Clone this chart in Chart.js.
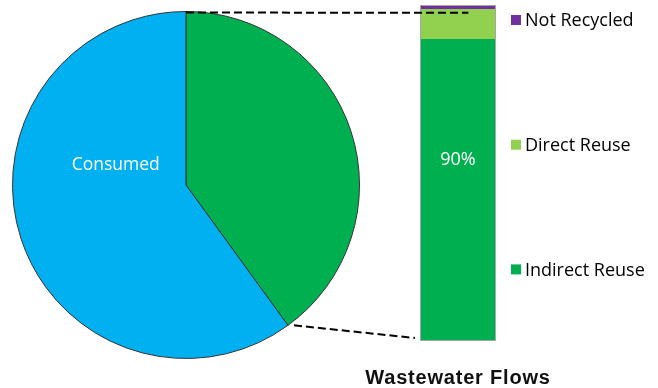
<!DOCTYPE html>
<html>
<head>
<meta charset="utf-8">
<script src="https://cdn.jsdelivr.net/npm/chart.js@4.4.0/dist/chart.umd.min.js"></script>
<style>
  html, body { margin: 0; padding: 0; background: #fff; }
  #wrap { position: relative; width: 658px; height: 388px; }
  #wrap canvas { position: absolute; left: 0; top: 0; }
</style>
</head>
<body>
<div id="wrap">
  <canvas id="pie" width="658" height="388"></canvas>
  <canvas id="bar" width="658" height="388"></canvas>
</div>
<script>
/* ---- Data ---- */
var pieLabels = ['Recycled', 'Consumed'];
var pieValues = [40, 60];
var pieColors = ['#00B050', '#00B0F0'];
var pieShownLabels = ['', 'Consumed'];

var barLabels = ['Indirect Reuse', 'Direct Reuse', 'Not Recycled'];
var barValues = [90, 9, 1];
var barColors = ['#00B050', '#92D050', '#7030A0'];
var barShownLabels = ['90%', '', ''];
var chartTitle = 'Wastewater Flows';

var FONT = "'Open Sans', sans-serif";

/* ---- Pie: slice label ---- */
var pieLabelPlugin = {
  id: 'pieLabels',
  afterDatasetsDraw: function (chart) {
    var ctx = chart.ctx;
    var arcs = chart.getDatasetMeta(0).data;
    ctx.save();
    ctx.fillStyle = '#fff';
    ctx.font = '17.5px ' + FONT;
    ctx.textAlign = 'center';
    ctx.textBaseline = 'middle';
    arcs.forEach(function (arc, i) {
      if (!pieShownLabels[i]) return;
      var r = arc.outerRadius;
      ctx.fillText(pieShownLabels[i], arc.x - 0.405 * r, arc.y - 0.115 * r);
    });
    ctx.restore();
  }
};

var pieChart = new Chart(document.getElementById('pie'), {
  type: 'pie',
  data: {
    labels: pieLabels,
    datasets: [{
      data: pieValues,
      backgroundColor: pieColors,
      borderColor: '#333333',
      borderWidth: 1
    }]
  },
  options: {
    responsive: false,
    animation: false,
    layout: { padding: { left: 12, top: 11, right: 298, bottom: 29 } },
    plugins: { legend: { display: false }, tooltip: { enabled: false } }
  },
  plugins: [pieLabelPlugin]
});

/* ---- Stacked bar: outline, value label, legend, title, connector lines ---- */
var barExtrasPlugin = {
  id: 'barExtras',
  afterDatasetsDraw: function (chart) {
    var ctx = chart.ctx;
    var area = chart.chartArea;
    ctx.save();
    ctx.strokeStyle = '#A6A6A6';
    ctx.lineWidth = 1;
    ctx.strokeRect(area.left - 0.5, area.top - 0.5, area.right - area.left + 1, area.bottom - area.top + 1);

    ctx.fillStyle = '#fff';
    ctx.font = '18px ' + FONT;
    ctx.textAlign = 'center';
    ctx.textBaseline = 'middle';
    chart.data.datasets.forEach(function (ds, i) {
      if (!barShownLabels[i]) return;
      var bar = chart.getDatasetMeta(i).data[0];
      ctx.fillText(barShownLabels[i], bar.x, bar.y + 0.4 * (bar.base - bar.y));
    });
    ctx.restore();
  },
  afterDraw: function (chart) {
    var ctx = chart.ctx;
    var area = chart.chartArea;

    /* legend, top entry = last dataset */
    ctx.save();
    ctx.font = '18px ' + FONT;
    ctx.textBaseline = 'middle';
    ctx.textAlign = 'left';
    var n = chart.data.datasets.length;
    for (var k = 0; k < n; k++) {
      var i = n - 1 - k;
      var y = area.top + 14 + k * 124.7;
      ctx.fillStyle = barColors[i];
      ctx.fillRect(area.right + 16, y - 5, 10, 10);
      ctx.fillStyle = '#000';
      ctx.fillText(barLabels[i], area.right + 30, y + 1);
    }

    /* title below the bar */
    ctx.font = "bold 20px 'Liberation Sans', Arial, sans-serif";
    ctx.letterSpacing = '0.8px';
    ctx.textAlign = 'center';
    ctx.fillStyle = '#111';
    ctx.fillText(chartTitle, (area.left + area.right) / 2, area.bottom + 38.5);
    ctx.restore();

    /* dashed connectors from the recycled slice to the bar */
    var arc = pieChart.getDatasetMeta(0).data[0];
    var r = arc.outerRadius;
    var base = chart.getDatasetMeta(0).data[0];
    var direct = chart.getDatasetMeta(1).data[0];
    ctx.save();
    ctx.strokeStyle = '#000';
    ctx.lineWidth = 2;
    ctx.setLineDash([8, 4]);
    ctx.beginPath();
    ctx.moveTo(arc.x + r * Math.cos(arc.startAngle), arc.y + r * Math.sin(arc.startAngle) + 1);
    ctx.lineTo(area.left + 0.64 * (area.right - area.left), direct.y + 3.5);
    ctx.stroke();
    ctx.beginPath();
    ctx.moveTo(arc.x + r * Math.cos(arc.endAngle) + 6, arc.y + r * Math.sin(arc.endAngle));
    ctx.lineTo(area.left - 6, base.base - 2);
    ctx.stroke();
    ctx.restore();
  }
};

new Chart(document.getElementById('bar'), {
  type: 'bar',
  data: {
    labels: [''],
    datasets: barValues.map(function (v, i) {
      return {
        label: barLabels[i],
        data: [v],
        backgroundColor: barColors[i],
        borderWidth: 0,
        barPercentage: 1,
        categoryPercentage: 1
      };
    })
  },
  options: {
    responsive: false,
    animation: false,
    layout: { padding: { left: 421, right: 163, top: 6, bottom: 48 } },
    scales: {
      x: { stacked: true, display: false },
      y: { stacked: true, display: false, min: 0, max: 100 }
    },
    plugins: {
      legend: { display: false },
      tooltip: { enabled: false }
    }
  },
  plugins: [barExtrasPlugin]
});
</script>
</body>
</html>
